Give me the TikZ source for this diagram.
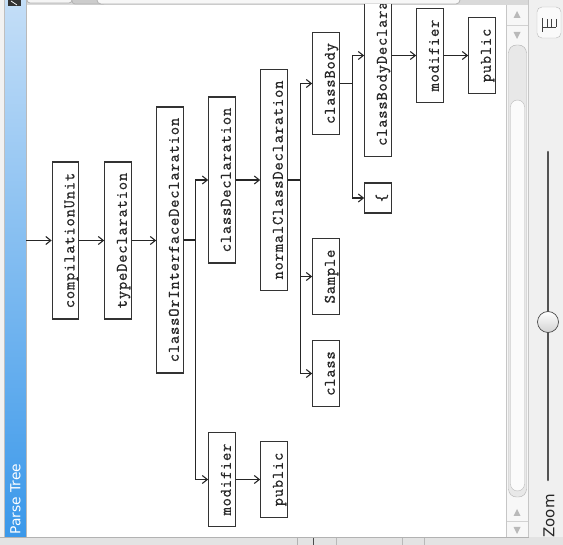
\documentclass[tikz,border=0pt]{standalone}
\usepackage{fontspec}
\setmainfont{DejaVu Sans}
\newfontfamily\treefont[FakeBold=0.9]{Latin Modern Mono}
\usetikzlibrary{arrows.meta}
\definecolor{barTop}{HTML}{C4DEF7}
\definecolor{barMid}{HTML}{6CB2EE}
\definecolor{barBot}{HTML}{3A98EA}
\newcommand\spacedmono[1]{\spacedloop#1\relax}
\def\spacedloop#1{\ifx#1\relax\else\hbox to 9.08pt{\hss#1\hss}\expandafter\spacedloop\fi}
\begin{document}
\begin{tikzpicture}[x=1pt,y=-1pt,
  tnode/.style={draw=black!80, line width=1.2pt, rotate=90, fill=white,
    font=\treefont\fontsize{16}{17}\selectfont, text=black!85,
    inner xsep=10.4pt, inner ysep=4.5pt, text height=17.5pt, text depth=0pt},
  conn/.style={line width=1.2pt, draw=black!85},
  arr/.style={conn, -{Straight Barb[length=5pt,width=8pt,line width=1.1pt]}},
  chrome/.style={draw=gray!60, line width=0.8pt}
]
\useasboundingbox (0,0) rectangle (563,545);
% overall background
\fill[gray!18] (0,0) rectangle (563,545);
% top strip
\fill[gray!30] (0,0) rectangle (529,5);
\draw[chrome, fill=gray!8, rounded corners=3] (27,-6) rectangle (72,3);
\draw[chrome, fill=gray!40, rounded corners=3] (72,-6) rectangle (106,4);
\draw[chrome, fill=gray!6, rounded corners=4] (97,-8) rectangle (460,4);
% main white panel
\fill[white] (26,5) rectangle (506,537);
% left strip and blue bar
\fill[gray!10] (0,0) rectangle (5,545);
\draw[gray!50] (4.5,0) -- (4.5,540);
\shade[top color=barTop, middle color=barMid, bottom color=barBot] (5,0) rectangle (26,537);
\draw[gray!55] (26,0) -- (26,537);
\fill[black!80] (8,0) rectangle (21,6);
\draw[white, line width=0.8pt] (11,1) -- (17,5);
\node[rotate=90, text=white, font=\fontsize{13.8}{14}\selectfont, inner sep=0pt] (title) at (15.5,499) {Parse Tree};

% tree
\begin{scope}
\clip (26,5) rectangle (506,537);
\node[tnode] (cu) at (65.5,240.5) {\spacedmono{compilationUnit}};
\node[tnode] (td) at (118,240.5) {\spacedmono{typeDeclaration}};
\node[tnode] (coid) at (170,240) {\spacedmono{classOrInterfaceDeclaration}};
\node[tnode] (cd) at (222,180) {\spacedmono{classDeclaration}};
\node[tnode] (ncd) at (274,180) {\spacedmono{normalClassDeclaration}};
\node[tnode] (cb) at (326,83.5) {\spacedmono{classBody}};
\node[tnode] (cbd) at (378,55.5) {\spacedmono{classBodyDeclaration}};
\node[tnode] (lb) at (378,198) {\spacedmono{\{}};
\node[tnode] (ma) at (430,55.5) {\spacedmono{modifier}};
\node[tnode] (pa) at (482,55.5) {\spacedmono{public}};
\node[tnode] (sa) at (326,276.5) {\spacedmono{Sample}};
\node[tnode] (cl) at (326,373.5) {\spacedmono{class}};
\node[tnode] (mb) at (222,479.5) {\spacedmono{modifier}};
\node[tnode] (pb) at (274,479.5) {\spacedmono{public}};

\coordinate (root) at (26,240.5);
\draw[arr] (root) -- (cu.north);
\draw[arr] (cu.south) -- (td.north);
\draw[arr] (td.south) -- (td.south -| coid.north);
\draw[conn] (coid.south) -- ++(12,0) coordinate (b1);
\draw[arr] (b1) |- (cd.north);
\draw[arr] (b1) |- (mb.north);
\draw[arr] (cd.south) -- (ncd.north);
\draw[conn] (ncd.south) -- ++(13,0) coordinate (b2);
\draw[arr] (b2) |- (cb.north);
\draw[arr] (b2) |- (sa.north);
\draw[arr] (b2) |- (cl.north);
\draw[conn] (cb.south) -- ++(13,0) coordinate (b3);
\draw[arr] (b3) |- (cbd.north);
\draw[arr] (b3) |- (lb.north);
\draw[arr] (cbd.south) -- (ma.north);
\draw[arr] (ma.south) -- (pa.north);
\draw[arr] (mb.south) -- (pb.north);
\end{scope}

% scroll column
\fill[gray!6] (506,5) rectangle (529,537);
\draw[gray!45] (506.5,5) -- (506.5,537);
\draw[gray!45] (528.5,0) -- (528.5,537);
\fill[gray!55] (513.5,18) -- (520.5,18) -- (517,11) -- cycle;
\fill[gray!55] (513.5,32) -- (520.5,32) -- (517,39) -- cycle;
\draw[gray!35] (507,25) -- (528,25);
\fill[gray!55] (513.5,516) -- (520.5,516) -- (517,509) -- cycle;
\fill[gray!55] (513.5,527) -- (520.5,527) -- (517,534) -- cycle;
\draw[gray!35] (507,521.5) -- (528,521.5);
\draw[gray!60, fill=gray!18, rounded corners=8] (508.5,45) rectangle (526.5,497);
\draw[gray!55, fill=gray!3, rounded corners=7] (510.5,100) rectangle (524.5,491);

% right panel
\fill[gray!12] (529,0) rectangle (563,545);
\draw[gray!55, fill=gray!4, rounded corners=5] (537,7) rectangle (561,38);
\draw[black!75, line width=1pt] (542,18) -- (542,32)
  (542,27.5) -- (556,27.5) (547,19) -- (547,27.5) (551.5,19) -- (551.5,27.5) (556,19) -- (556,27.5);
\draw[gray!65!black, line width=2.6pt, line cap=round] (548,152) -- (548,480);
\shade[top color=white, bottom color=gray!35] (548,322) circle (10.5);
\draw[gray!60!black, line width=0.7pt] (548,322) circle (10.5);
\node[rotate=90, text=black!85, font=\fontsize{15}{16}\selectfont, inner sep=0pt] (zoomlbl) at (549,516) {Zoom};

% bottom strip
\fill[gray!22] (0,537) rectangle (563,545);
\draw[gray!60] (0,537.5) -- (529,537.5);
\foreach \xx/\cc in {297/gray!60, 313/black!70, 336/gray!55, 402/gray!55, 424/gray!55}
  \draw[\cc, line width=1pt] (\xx,538) -- (\xx,545);
\end{tikzpicture}
\end{document}
